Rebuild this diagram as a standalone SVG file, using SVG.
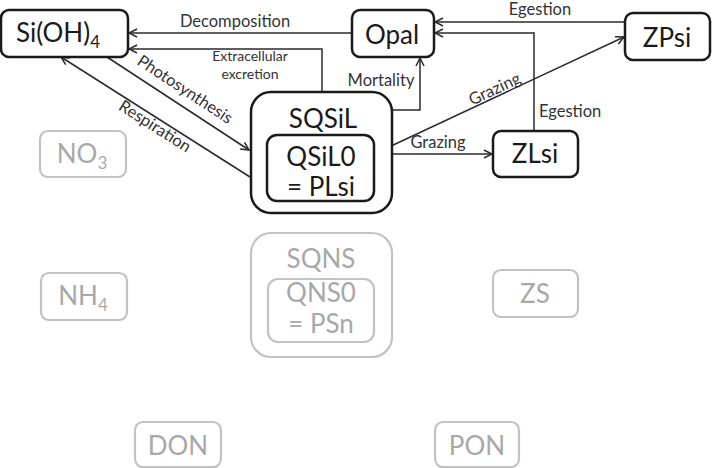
<svg xmlns="http://www.w3.org/2000/svg" width="712" height="468" viewBox="0 0 712 468">
<style>
text{font-family:Lato,"Open Sans","Liberation Sans",sans-serif;}
.box{fill:#fff;stroke:#1a1a1a;stroke-width:2.5;}
.gbox{fill:#fff;stroke:#c2c2c2;stroke-width:2.2;}
.nt{font-size:26px;fill:#1a1a1a;text-anchor:middle;}
.gt{font-size:26px;fill:#a8a8a8;text-anchor:middle;}
.lbl{font-size:16.5px;fill:#333;text-anchor:middle;}
.sm{font-size:14px;}
.con{fill:none;stroke:#2a2a2a;stroke-width:1.5;}
</style>
<defs>
<marker id="arr" viewBox="0 0 10 10" refX="9" refY="5" markerWidth="10" markerHeight="10" markerUnits="userSpaceOnUse" orient="auto">
<path d="M1,1 L9,5 L1,9" fill="none" stroke="#2a2a2a" stroke-width="1.5"/>
</marker>
</defs>
<g id="connectors">
<path class="con" d="M352,33 H129" marker-end="url(#arr)"/>
<path class="con" d="M322,92 V49 H129" marker-end="url(#arr)"/>
<path class="con" d="M107,57 L249,150" marker-end="url(#arr)"/>
<path class="con" d="M250,177 L61,57" marker-end="url(#arr)"/>
<path class="con" d="M363,135 V110 H420 V58" marker-end="url(#arr)"/>
<path class="con" d="M374,154 H492" marker-end="url(#arr)"/>
<path class="con" d="M374,154 L624,37" marker-end="url(#arr)"/>
<path class="con" d="M625,22 H435" marker-end="url(#arr)"/>
<path class="con" d="M534,131 V33 H435" marker-end="url(#arr)"/>
<text class="lbl" x="235" y="27">Decomposition</text>
<text class="lbl sm" x="250" y="61">Extracellular</text>
<text class="lbl sm" x="250" y="79">excretion</text>
<text class="lbl" transform="translate(182,94) rotate(33.4)">Photosynthesis</text>
<text class="lbl" transform="translate(152,131) rotate(32.5)">Respiration</text>
<text class="lbl" x="381" y="86">Mortality</text>
<text class="lbl" x="438" y="148">Grazing</text>
<text class="lbl" transform="translate(497,94) rotate(-25)">Grazing</text>
<text class="lbl" x="540" y="15">Egestion</text>
<text class="lbl" x="539" y="117" style="text-anchor:start">Egestion</text>
</g>
<g id="SiOH4"><rect class="box" x="1" y="10" width="127" height="47" rx="8"/><text class="nt" x="58" y="42">Si(OH)<tspan font-size="17" dy="6">4</tspan></text></g>
<g id="Opal"><rect class="box" x="352" y="10" width="82" height="47" rx="8"/><text class="nt" x="392" y="44">Opal</text></g>
<g id="ZPsi"><rect class="box" x="625" y="13" width="85" height="47" rx="8"/><text class="nt" x="667" y="47">ZPsi</text></g>
<g id="ZLsi"><rect class="box" x="493" y="131" width="85" height="46" rx="8"/><text class="nt" x="535" y="163">ZLsi</text></g>
<g id="SQSiL"><rect class="box" x="251" y="92" width="141" height="121" rx="20" stroke-width="3"/><text class="nt" x="323" y="128">SQSiL</text></g>
<g id="QSiL0"><rect class="box" x="267" y="135" width="107" height="66" rx="10"/><text class="nt" x="321" y="166" font-size="24">QSiL0</text><text class="nt" x="321" y="196" font-size="24">= PLsi</text></g>
<g id="NO3"><rect class="gbox" x="40" y="131" width="86" height="46" rx="8"/><text class="gt" x="82" y="163">NO<tspan font-size="17" dy="6">3</tspan></text></g>
<g id="NH4"><rect class="gbox" x="41" y="273" width="86" height="47" rx="8"/><text class="gt" x="83" y="305">NH<tspan font-size="17" dy="6">4</tspan></text></g>
<g id="SQNS"><rect class="gbox" x="251" y="233" width="141" height="124" rx="20"/><text class="gt" x="321" y="268">SQNS</text></g>
<g id="QNS0"><rect class="gbox" x="268" y="279" width="106" height="63" rx="10"/><text class="gt" x="321" y="302">QNS0</text><text class="gt" x="321" y="333">= PSn</text></g>
<g id="ZS"><rect class="gbox" x="493" y="270" width="85" height="47" rx="8"/><text class="gt" x="535" y="303">ZS</text></g>
<g id="DON"><rect class="gbox" x="135" y="422" width="86" height="45" rx="8"/><text class="gt" x="178" y="455">DON</text></g>
<g id="PON"><rect class="gbox" x="435" y="422" width="84" height="45" rx="8"/><text class="gt" x="477" y="455">PON</text></g>
</svg>
